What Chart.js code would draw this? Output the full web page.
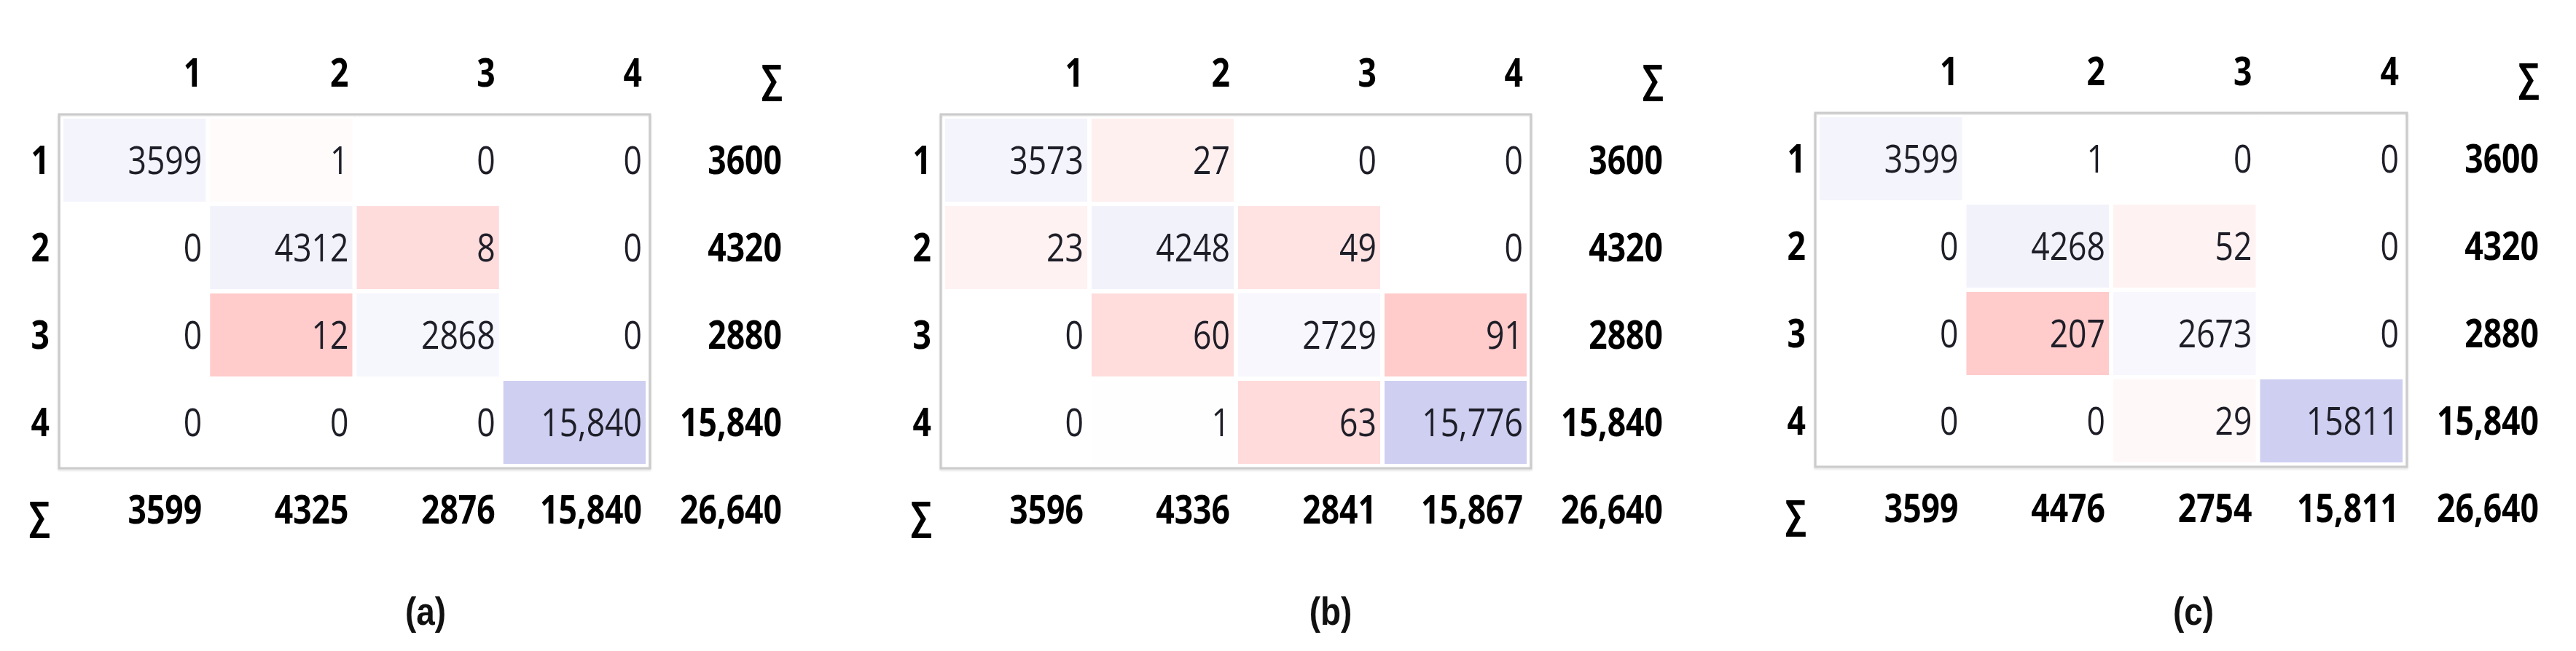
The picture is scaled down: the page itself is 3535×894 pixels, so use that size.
<!DOCTYPE html>
<html>
<head>
<meta charset="utf-8">
<script src="https://cdn.jsdelivr.net/npm/chart.js@4.4.1/dist/chart.umd.min.js"></script>
<style>
    html, body { margin: 0; padding: 0; background: #ffffff; }
    #wrap { position: relative; width: 3535px; height: 894px; overflow: hidden; }
    canvas { position: absolute; top: 0; }
</style>
</head>
<body>
<div id="wrap">
    <canvas id="panelA" width="1180" height="894" style="left:0px"></canvas>
    <canvas id="panelB" width="1180" height="894" style="left:1180px"></canvas>
    <canvas id="panelC" width="1175" height="894" style="left:2360px"></canvas>
</div>
<script>
// Etiquetas de clases y totales
const classLabels = ['1', '2', '3', '4'];
const sumLabel = '∑';

// Matrices de confusión (filas = real, columnas = predicho)
const matrixA = [
    [3599, 1, 0, 0],
    [0, 4312, 8, 0],
    [0, 12, 2868, 0],
    [0, 0, 0, 15840]
];
const matrixB = [
    [3573, 27, 0, 0],
    [23, 4248, 49, 0],
    [0, 60, 2729, 91],
    [0, 1, 63, 15776]
];
const matrixC = [
    [3599, 1, 0, 0],
    [0, 4268, 52, 0],
    [0, 207, 2673, 0],
    [0, 0, 29, 15811]
];

// Totales
const rowTotals = [3600, 4320, 2880, 15840];
const colTotalsA = [3599, 4325, 2876, 15840];
const colTotalsB = [3596, 4336, 2841, 15867];
const colTotalsC = [3599, 4476, 2754, 15811];
const grandTotal = 26640;

const captions = ['(a)', '(b)', '(c)'];

/**
 * Disposición de cada panel (coordenadas de página)
 */
const panels = [
    { canvas: 'panelA', matrix: matrixA, colTotals: colTotalsA, caption: captions[0], groupCells: true,
      left: 0, width: 1180, area: [84, 160, 889, 640], captionX: 584 },
    { canvas: 'panelB', matrix: matrixB, colTotals: colTotalsB, caption: captions[1], groupCells: true,
      left: 1180, width: 1180, area: [1294, 160, 2098, 640], captionX: 1826 },
    { canvas: 'panelC', matrix: matrixC, colTotals: colTotalsC, caption: captions[2], groupCells: false,
      left: 2360, width: 1175, area: [2494, 158, 3300, 638], captionX: 3010 }
];

const PAGE_H = 894;
const FONT_FAMILY = "'Open Sans', 'DejaVu Sans', sans-serif";
const FONT_SIZE = 53;
const SQUEEZE = 0.84;

function formatear(valor, agrupar) {
    if (agrupar && valor >= 10000) {
        return valor.toLocaleString('en-US');
    }
    return String(valor);
}

function colorCelda(valor, diagonal, maxDiag, maxFuera) {
    if (valor === 0) return '#ffffff';
    if (diagonal) {
        const t = valor / maxDiag;
        return `rgb(${Math.round(255 - 48 * t)}, ${Math.round(255 - 48 * t)}, ${Math.round(255 - 13 * t)})`;
    }
    const t = valor / maxFuera;
    return `rgb(255, ${Math.round(255 - 52 * t)}, ${Math.round(255 - 52 * t)})`;
}

function construirDatasets(matrix) {
    const diag = matrix.map((fila, i) => fila[i]);
    const fuera = [];
    matrix.forEach((fila, r) => fila.forEach((v, c) => { if (r !== c) fuera.push(v); }));
    const maxDiag = Math.max(...diag);
    const maxFuera = Math.max(...fuera, 1);

    return matrix.map((fila, r) => ({
        data: fila.map(() => [r, r + 1]),
        backgroundColor: fila.map((v, c) => colorCelda(v, r === c, maxDiag, maxFuera)),
        borderColor: '#ffffff',
        borderWidth: 3,
        borderSkipped: false,
        inflateAmount: 0,
        grouped: false,
        barPercentage: 1,
        categoryPercentage: 1
    }));
}

function escribir(ctx, texto, x, yCentro, bold, color, align) {
    ctx.save();
    ctx.font = `${bold ? 'bold ' : ''}${FONT_SIZE}px ${FONT_FAMILY}`;
    ctx.fillStyle = color;
    ctx.textAlign = align || 'right';
    ctx.textBaseline = 'alphabetic';
    ctx.translate(x, yCentro + FONT_SIZE * 0.357);
    ctx.scale(SQUEEZE, 1);
    ctx.fillText(texto, 0, 0);
    ctx.restore();
}

/**
 * Plugin que dibuja el marco, encabezados, valores, totales y el título
 */
const textoTabla = {
    id: 'textoTabla',
    beforeDatasetsDraw(chart) {
        const { ctx, chartArea } = chart;
        ctx.save();
        ctx.strokeStyle = '#cbcbcb';
        ctx.lineWidth = 3;
        ctx.shadowColor = 'rgba(0,0,0,0.12)';
        ctx.shadowBlur = 3;
        ctx.shadowOffsetY = 2;
        ctx.strokeRect(chartArea.left - 3, chartArea.top - 3, chartArea.width + 6, chartArea.height + 6);
        ctx.restore();
    },
    afterDraw(chart, args, opts) {
        const { ctx, chartArea, scales: { x, y } } = chart;
        const colW = chartArea.width / classLabels.length;
        const pad = 8;
        const colRight = c => x.getPixelForValue(c) + colW / 2 - pad;
        const rowMid = r => y.getPixelForValue(r + 0.5);
        const sumX = chartArea.right + 184;
        const labelX = chartArea.left - 16;

        // encabezados
        classLabels.forEach((lab, c) => escribir(ctx, lab, colRight(c), rowMid(-1), true, '#000'));
        escribir(ctx, sumLabel, sumX, rowMid(-1) + 8, true, '#000');

        // filas
        opts.matrix.forEach((fila, r) => {
            escribir(ctx, classLabels[r], labelX, rowMid(r), true, '#000');
            fila.forEach((v, c) => escribir(ctx, formatear(v, opts.groupCells), colRight(c), rowMid(r), false, '#1e1e28'));
            escribir(ctx, formatear(rowTotals[r], true), sumX, rowMid(r), true, '#000');
        });

        // fila de totales
        escribir(ctx, sumLabel, labelX, rowMid(4) + 8, true, '#000');
        opts.colTotals.forEach((v, c) => escribir(ctx, formatear(v, true), colRight(c), rowMid(4), true, '#000'));
        escribir(ctx, formatear(grandTotal, true), sumX, rowMid(4), true, '#000');

        // título
        ctx.save();
        ctx.font = `bold 54px 'Liberation Sans', Arial, sans-serif`;
        ctx.fillStyle = '#111';
        ctx.textAlign = 'center';
        ctx.textBaseline = 'middle';
        ctx.translate(opts.captionX, 843);
        ctx.scale(0.85, 1);
        ctx.fillText(opts.caption, 0, 0);
        ctx.restore();
    }
};

panels.forEach(p => {
    const ctx = document.getElementById(p.canvas).getContext('2d');
    new Chart(ctx, {
        type: 'bar',
        data: {
            labels: classLabels,
            datasets: construirDatasets(p.matrix)
        },
        options: {
            responsive: false,
            animation: false,
            events: [],
            layout: {
                padding: {
                    left: p.area[0] - p.left,
                    top: p.area[1],
                    right: p.width - (p.area[2] - p.left),
                    bottom: PAGE_H - p.area[3]
                }
            },
            plugins: {
                legend: { display: false },
                tooltip: { enabled: false },
                textoTabla: {
                    matrix: p.matrix,
                    colTotals: p.colTotals,
                    groupCells: p.groupCells,
                    caption: p.caption,
                    captionX: p.captionX - p.left
                }
            },
            scales: {
                x: { type: 'category', display: false, offset: true },
                y: { type: 'linear', display: false, min: 0, max: 4, reverse: true }
            }
        },
        plugins: [textoTabla]
    });
});
</script>
</body>
</html>
